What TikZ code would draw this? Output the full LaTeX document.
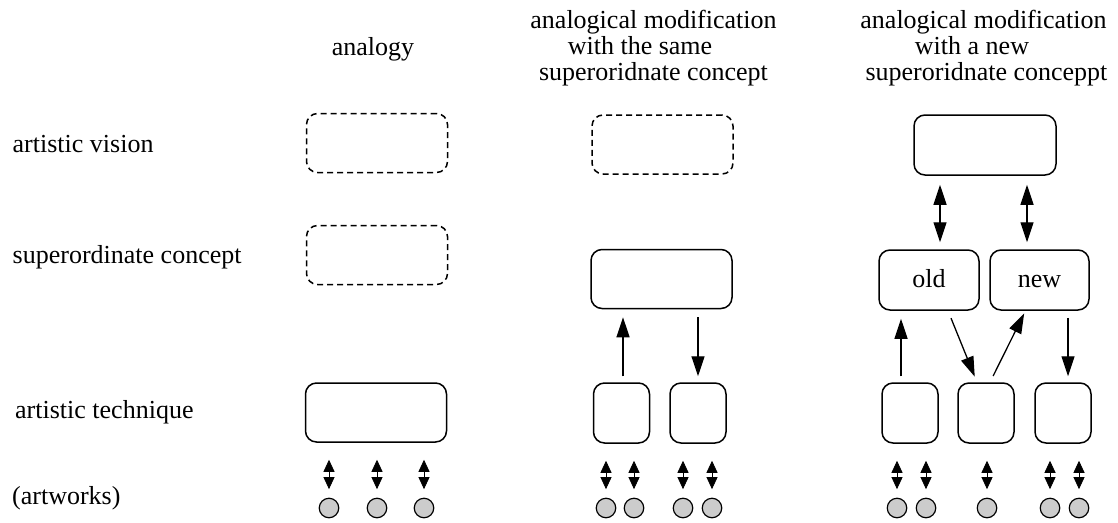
\documentclass[tikz,border=0pt]{standalone}
\usepackage{fontspec}
\setmainfont{Liberation Serif}
\newfontfamily\tnr{Liberation Serif}
\usetikzlibrary{arrows.meta}
\begin{document}
\begin{tikzpicture}[x=1pt,y=-1pt,
  txt/.style={font=\tnr\fontsize{26}{26}\selectfont, inner sep=0pt},
  lab/.style={txt, anchor=base west},
  hd/.style={txt, anchor=base},
  box/.style={draw, line width=1.5pt, rounded corners=11pt, inner sep=0pt, font=\tnr\fontsize{26}{26}\selectfont, text height=18pt, text depth=4pt},
  dbox/.style={box, dash pattern=on 6pt off 4pt},
  wide/.style={minimum width=141pt, minimum height=59pt},
  small/.style={minimum width=56pt, minimum height=60pt},
  art/.style={circle, draw, line width=1.2pt, fill=black!20, minimum size=19.5pt, inner sep=0pt},
  conn/.style={-{Triangle[length=20pt,width=13pt]}, line width=1.3pt},
  bconn/.style={{Triangle[length=20pt,width=13pt]}-{Triangle[length=20pt,width=13pt]}, line width=1.3pt},
  dbl/.style={{Triangle[length=12pt,width=11pt]}-{Triangle[length=12pt,width=11pt]}, line width=0.8pt}
]
\useasboundingbox (0,0) rectangle (1118,522);

% row labels
\node[lab] (l1) at (12.5,152) {artistic vision};
\node[lab] (l2) at (12.5,263) {superordinate concept};
\node[lab] (l3) at (15,418) {artistic technique};
\node[lab] (l4) at (12,504) {(artworks)};

% headers
\node[hd] (h1) at (373,55) {analogy};
\node[hd] (h2a) at (653.5,28) {analogical modification};
\node[hd] (h2b) at (640,54) {with the same};
\node[hd] (h2c) at (653.5,80) {superoridnate concept};
\node[hd] (h3a) at (983.5,28) {analogical modification};
\node[hd] (h3b) at (972,54) {with a new};
\node[hd] (h3c) at (986.5,80) {superoridnate conceppt};

% column 1
\node[dbox, wide] (v1) at (377,143) {};
\node[dbox, wide] (s1) at (377,255) {};
\node[box, wide] (t1) at (376,412.5) {};

% column 2
\node[dbox, wide] (v2) at (662.5,144.5) {};
\node[box, wide] (s2) at (661.5,279) {};
\node[box, small] (t2a) at (621.5,413) {};
\node[box, small] (t2b) at (698,413) {};

% column 3
\node[box, minimum width=142pt, minimum height=60pt] (v3) at (985,145) {};
\node[box, minimum width=100pt, minimum height=60pt] (old) at (929,280) {old};
\node[box, minimum width=99pt, minimum height=60pt] (new) at (1039.5,280) {new};
\node[box, small] (t3a) at (910,413) {};
\node[box, small] (t3b) at (986,413) {};
\node[box, small] (t3c) at (1063,413) {};

% connectors column 2
\coordinate (x5) at (623,0);
\coordinate (x6) at (698,0);
\draw[conn, shorten <=6pt, shorten >=8pt] (x5 |- t2a.north) -- (x5 |- s2.south);
\draw[conn, shorten <=8pt, shorten >=6pt] (x6 |- s2.south) -- (x6 |- t2b.north);

% connectors column 3
\coordinate (x1) at (940,0);
\coordinate (x2) at (1027,0);
\coordinate (x3) at (901,0);
\coordinate (x4) at (1068,0);
\draw[bconn, shorten <=9pt, shorten >=7pt] (x1 |- v3.south) -- (x1 |- old.north);
\draw[bconn, shorten <=9pt, shorten >=7pt] (x2 |- v3.south) -- (x2 |- new.north);
\draw[conn, shorten <=6pt, shorten >=8pt] (x3 |- t3a.north) -- (x3 |- old.south);
\coordinate (oout) at ([xshift=19pt]old.south);
\coordinate (min) at ([xshift=-9pt]t3b.north);
\coordinate (mout) at ([xshift=4pt]t3b.north);
\coordinate (nin) at ([xshift=-14pt]new.south);
\draw[conn, shorten <=8pt, shorten >=6pt] (oout) -- (min);
\draw[conn, shorten <=7pt, shorten >=3pt] (mout) -- (nin);
\draw[conn, shorten <=7pt, shorten >=6pt] (x4 |- new.south) -- (x4 |- t3c.north);

% artworks and double arrows
\foreach \n/\x/\b in {c11/329/t1, c12/377/t1, c13/424/t1,
                      c21/606/t2a, c22/634/t2a, c23/683/t2b, c24/712/t2b,
                      c31/897/t3a, c32/926/t3a, c33/987/t3b, c34/1050/t3c, c35/1079/t3c}{
  \node[art] (\n) at (\x,508) {};
  \draw[dbl, shorten <=8.5pt, shorten >=17pt] (\n.north) -- (\n.north |- \b.south);
}
\end{tikzpicture}
\end{document}
